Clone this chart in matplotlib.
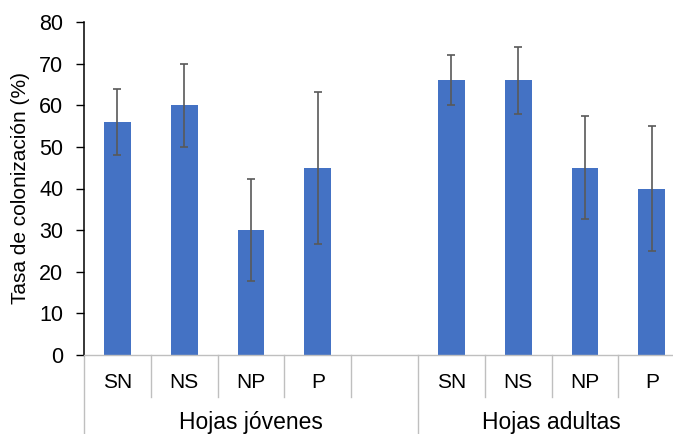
import numpy as np
import matplotlib
matplotlib.use("Agg")
import matplotlib.pyplot as plt
import matplotlib.transforms as mtransforms

plt.rcParams['font.family'] = ['Liberation Sans', 'DejaVu Sans']

# Data
groups = ['Hojas jóvenes', 'Hojas adultas']
categories = ['SN', 'NS', 'NP', 'P', '', 'SN', 'NS', 'NP', 'P']
values = [56, 60, 30, 45, np.nan, 66, 66, 45, 40]
errors = [8, 10, 12.3, 18.3, np.nan, 6, 8, 12.3, 15]
group_spans = [(0, 4), (5, 8)]  # inclusive category index ranges
yticks = [0, 10, 20, 30, 40, 50, 60, 70, 80]

W, H = 673, 434
fig = plt.figure(figsize=(W / 100, H / 100), dpi=100)
left_px, right_px, top_px, bottom_px = 84, 673, 22, 355
ax = fig.add_axes([left_px / W, (H - bottom_px) / H,
                   (right_px - left_px) / W, (bottom_px - top_px) / H])

cat_w = 66.8
x = np.arange(len(categories))
ax.bar(x, values, width=0.4, color='#4472C4', zorder=2)
ax.errorbar(x, values, yerr=errors, fmt='none', ecolor='#595959',
            elinewidth=1.2, capsize=3.2, capthick=1.2, zorder=3)

ax.set_xlim(-0.5, -0.5 + (right_px - left_px) / cat_w)
ax.set_ylim(0, 80)
ax.set_yticks(yticks)
ax.tick_params(axis='y', direction='out', length=6, width=1, labelsize=15.5,
               colors='black', pad=9)
ax.set_xticks([])

for s in ['top', 'right']:
    ax.spines[s].set_visible(False)
ax.spines['left'].set_color('black')
ax.spines['left'].set_linewidth(1.1)
ax.spines['bottom'].set_color('#BFBFBF')
ax.spines['bottom'].set_linewidth(1.0)

ax.set_ylabel('Tasa de colonización (%)', fontsize=15)
ax.yaxis.label.set_va('center')
ax.yaxis.set_label_coords((21 - left_px) / (right_px - left_px), 0.5)

trans = mtransforms.blended_transform_factory(ax.transData, ax.transAxes)
ah = bottom_px - top_px
y_sub = -(397 - bottom_px) / ah
y_grp = -(H - bottom_px + 2) / ah
y_cat = -(382 - bottom_px) / ah
y_glab = -(423 - bottom_px) / ah

group_edges = set()
for a, b in group_spans:
    group_edges.add(a - 0.5)
    group_edges.add(b + 0.5)
for i in range(len(categories) + 1):
    xe = i - 0.5
    ybot = y_grp if xe in group_edges else y_sub
    ax.plot([xe, xe], [0, ybot], transform=trans, color='#BFBFBF',
            lw=1.0, clip_on=False, zorder=1)

for i, c in enumerate(categories):
    ax.text(i, y_cat, c, transform=trans, ha='center', va='center',
            fontsize=15, color='black')

for g, (a, b) in zip(groups, group_spans):
    center = (a - 0.5 + b + 0.5) / 2
    ax.text(center, y_glab, g, transform=trans, ha='center', va='center',
            fontsize=16.5, color='black')

fig.savefig('out.png', dpi=100)
